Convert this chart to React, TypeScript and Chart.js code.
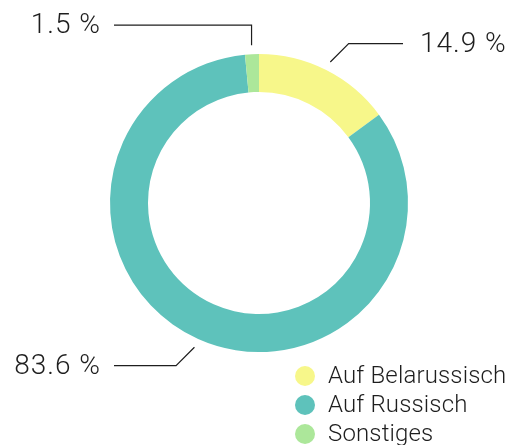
import React, { useEffect, useRef } from "react";
import { Chart, registerables } from "chart.js";

Chart.register(...registerables);

const categories = ["Auf Belarussisch", "Auf Russisch", "Sonstiges"];
const shares = [14.9, 83.6, 1.5];
const sliceColors = ["#f7f78a", "#5ec2bb", "#ace79a"];

const FONT = '"Helvetica Neue", Roboto, "Liberation Sans", Arial, sans-serif';

const labelPlugin = {
  id: "leaderLabels",
  afterDraw(chart: any) {
    const ctx = chart.ctx;
    const meta = chart.getDatasetMeta(0);
    ctx.save();
    ctx.strokeStyle = "#1e1e1e";
    ctx.lineWidth = 1.2;
    ctx.fillStyle = "#1e1e1e";
    ctx.font = `300 28px ${FONT}`;
    (ctx as any).letterSpacing = "1px";
    ctx.textBaseline = "middle";
    meta.data.forEach((arc: any, i: number) => {
      const p = arc.getProps(["x", "y", "startAngle", "endAngle", "outerRadius"], true);
      const mid = (p.startAngle + p.endAngle) / 2;
      const r1 = p.outerRadius + 9;
      const x0 = p.x + r1 * Math.cos(mid);
      const y0 = p.y + r1 * Math.sin(mid);
      const step = Math.PI / 4;
      const snap = Math.round(mid / step) * step;
      const c = Math.cos(snap);
      const vertical = Math.abs(c) < 0.01;
      const len = vertical ? 20 : 26;
      const x1 = x0 + len * Math.cos(snap);
      const y1 = y0 + len * Math.sin(snap);
      const right = vertical ? Math.cos(mid) > 0 : c > 0;
      const xEnd = right ? chart.width - 106 : 114;
      ctx.beginPath();
      ctx.moveTo(x0, y0);
      ctx.lineTo(x1, y1);
      ctx.lineTo(xEnd, y1);
      ctx.stroke();
      const txt = shares[i].toFixed(1) + " %";
      if (right) {
        ctx.textAlign = "left";
        ctx.fillText(txt, xEnd + 17, y1 + 1);
      } else {
        ctx.textAlign = "right";
        ctx.fillText(txt, xEnd - 13, y1 + 1);
      }
    });
    ctx.restore();
  },
};

const legendPlugin = {
  id: "customLegend",
  afterDraw(chart: any) {
    const ctx = chart.ctx;
    const ds = chart.data.datasets[0];
    ctx.save();
    ctx.font = `300 24px ${FONT}`;
    (ctx as any).letterSpacing = "0.15px";
    ctx.textBaseline = "middle";
    ctx.textAlign = "left";
    (chart.data.labels as string[]).forEach((lab, i) => {
      const y = 376 + 29 * i;
      ctx.beginPath();
      ctx.fillStyle = ds.backgroundColor[i];
      ctx.arc(305, y, 10, 0, Math.PI * 2);
      ctx.fill();
      ctx.fillStyle = "#1e1e1e";
      ctx.fillText(lab, 328, y + 1);
    });
    ctx.restore();
  },
};

export default function App() {
  const ref = useRef<HTMLCanvasElement>(null);
  useEffect(() => {
    if (!ref.current) return;
    const chart = new Chart(ref.current, {
      type: "doughnut",
      data: {
        labels: categories,
        datasets: [
          {
            data: shares,
            backgroundColor: sliceColors,
            borderWidth: 0,
          },
        ],
      },
      options: {
        responsive: false,
        animation: false,
        cutout: "74.5%",
        layout: { padding: { left: 110, right: 101, top: 54, bottom: 93 } },
        plugins: {
          legend: { display: false },
          tooltip: { enabled: false },
        },
      },
      plugins: [labelPlugin, legendPlugin],
    });
    return () => chart.destroy();
  }, []);
  return (
    <div style={{ position: "fixed", left: 0, top: 0, width: 509, height: 445, background: "#fff" }}>
      <canvas ref={ref} width={509} height={445} style={{ display: "block" }} />
    </div>
  );
}
